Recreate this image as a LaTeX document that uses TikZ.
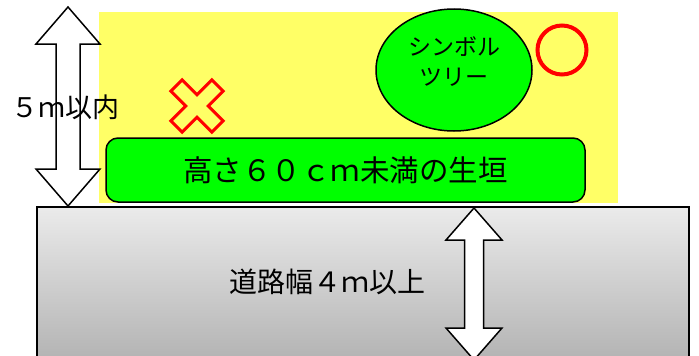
\documentclass[tikz,border=0pt]{standalone}
\usepackage{fontspec}
\setmainfont{Noto Sans CJK JP}
\usetikzlibrary{shapes.geometric}
\definecolor{lawn}{HTML}{FFFF66}
\definecolor{hedgegreen}{HTML}{00FF00}
\definecolor{markred}{HTML}{FF0000}
\begin{document}
\begin{tikzpicture}[x=1pt,y=-1pt,line join=miter,
  blockarrow/.style={draw=black,fill=white,line width=1.5pt},
  hedge/.style={draw,fill=hedgegreen,rounded corners=12pt,line width=1.5pt,
    minimum width=479pt,minimum height=64pt,font=\fontsize{29.5}{34}\selectfont},
  tree/.style={ellipse,draw,fill=hedgegreen,line width=1.5pt,
    minimum width=156pt,minimum height=122pt},
  road/.style={draw=black,line width=1.5pt,top color=black!8,bottom color=black!30},
  okmark/.style={circle,draw=markred,line width=4pt,minimum size=49pt,inner sep=0pt},
  xmark/.style={draw=markred,line width=3pt}]
\useasboundingbox (0,0) rectangle (699,356);
% garden and hedge
\fill[lawn] (99,12) rectangle (618,203);
\node[hedge] (hedge) at (345.5,170) {高さ６０ｃｍ未満の生垣};
\node[tree] (tree) at (454,70) {};
\node[align=center,font=\fontsize{23}{30}\selectfont] (treetext) at (454,62) {シンボル\\ツリー};
\node[okmark] (ok) at (562,50) {};
\draw[xmark,shift={(197,106)},rotate=45] (8,8) -- (29,8) -- (29,-8) -- (8,-8) -- (8,-29) -- (-8,-29)
  -- (-8,-8) -- (-29,-8) -- (-29,8) -- (-8,8) -- (-8,29) -- (8,29) -- cycle;
% road
\draw[road] (37,207) rectangle (689,362);
\node[font=\fontsize{28}{32}\selectfont] (roadtext) at (327,282) {道路幅４ｍ以上};
% double arrows
\coordinate (lefttip) at (68,7);
\coordinate (roadtip) at (474,208);
\draw[blockarrow] (lefttip) -- +(32,37) -- +(12,37) -- +(12,162) -- +(32,162) -- +(0,199)
  -- +(-32,162) -- +(-12,162) -- +(-12,37) -- +(-32,37) -- cycle;
\draw[blockarrow] (roadtip) -- +(28,32) -- +(9.5,32) -- +(9.5,120) -- +(28,120) -- +(0,152)
  -- +(-28,120) -- +(-9.5,120) -- +(-9.5,32) -- +(-28,32) -- cycle;
\node[font=\fontsize{27}{30}\selectfont] (heighttext) at (66,107) {５ｍ以内};
\end{tikzpicture}
\end{document}
